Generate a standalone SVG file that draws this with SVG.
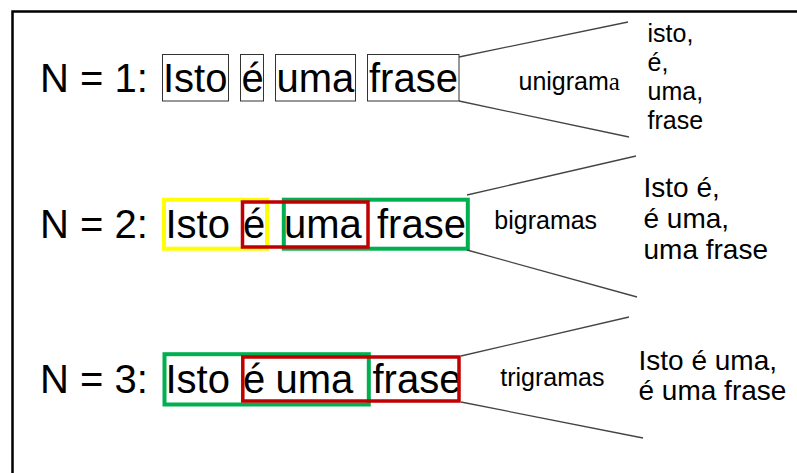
<svg xmlns="http://www.w3.org/2000/svg" width="797" height="473" viewBox="0 0 797 473">
  <style>
    text { font-family: "Liberation Sans", Arial, sans-serif; fill: #000; }
    .big { font-size: 40px; }
    .label { font-size: 25px; }
    .list1 { font-size: 25px; }
    .list { font-size: 28px; }
    .word { fill: none; stroke: #333; stroke-width: 1; }
    .yellow { fill: none; stroke: #FFFF00; stroke-width: 4; }
    .red { fill: none; stroke: #C00000; stroke-width: 3.5; }
    .green { fill: none; stroke: #00B050; stroke-width: 4; }
    .conn { stroke: #444; stroke-width: 1.3; fill: none; }
  </style>

  <rect id="frame" x="12.5" y="11.5" width="800" height="480" fill="none" stroke="#000" stroke-width="2.5"/>

  <!-- N = 1 : unigrams -->
  <g id="row1">
    <text class="big" x="40" y="92">N = 1:</text>
    <rect class="word" x="162.5" y="54.5" width="66" height="46.5"/>
    <text class="big" x="163" y="92">Isto</text>
    <rect class="word" x="240.5" y="54.5" width="23" height="46.5"/>
    <text class="big" x="241.5" y="92">é</text>
    <rect class="word" x="275.5" y="54.5" width="80" height="46.5"/>
    <text class="big" x="276.5" y="92">uma</text>
    <rect class="word" x="367.5" y="54.5" width="91.5" height="46.5"/>
    <text class="big" x="369" y="92">frase</text>
  </g>
  <g id="label1">
    <text class="label" x="518.5" y="90">unigram<tspan font-family="'Liberation Serif', serif">a</tspan></text>
  </g>
  <g id="list1">
    <text class="list1" x="647.5" y="42">isto,</text>
    <text class="list1" x="647.5" y="70.5">é,</text>
    <text class="list1" x="647.5" y="99.5">uma,</text>
    <text class="list1" x="647.5" y="128.5">frase</text>
  </g>

  <!-- N = 2 : bigrams -->
  <g id="row2">
    <text class="big" x="40" y="238">N = 2:</text>
    <text class="big" x="165.5" y="238">Isto</text>
    <text class="big" x="243" y="238">é</text>
    <text class="big" x="284" y="238">uma</text>
    <text class="big" x="377" y="238">frase</text>
    <rect class="yellow" x="164" y="199.7" width="103" height="49"/>
    <rect class="green" x="283.8" y="199.7" width="184" height="49"/>
    <rect class="red" x="242.5" y="202" width="125.5" height="45"/>
  </g>
  <g id="label2">
    <text class="label" x="494.3" y="229">bigramas</text>
  </g>
  <g id="list2">
    <text class="list" x="643.5" y="196.5">Isto é,</text>
    <text class="list" x="643.5" y="227.5">é uma,</text>
    <text class="list" x="643.5" y="258.5">uma frase</text>
  </g>

  <!-- N = 3 : trigrams -->
  <g id="row3">
    <text class="big" x="40" y="393">N = 3:</text>
    <text class="big" x="165.5" y="393">Isto</text>
    <text class="big" x="243" y="393">é</text>
    <text class="big" x="275.5" y="393">uma</text>
    <text class="big" x="372.5" y="393">frase</text>
    <rect class="green" x="164.5" y="354.2" width="204.3" height="50.3"/>
    <rect class="red" x="242.8" y="357" width="216.2" height="44"/>
  </g>
  <g id="label3">
    <text class="label" x="500.3" y="386">trigramas</text>
  </g>
  <g id="list3">
    <text class="list" x="638.5" y="370">Isto é uma,</text>
    <text class="list" x="638.5" y="400">é uma frase</text>
  </g>

  <!-- fan-out connectors -->
  <g id="connectors">
    <line class="conn" x1="459" y1="57" x2="628" y2="22"/>
    <line class="conn" x1="459" y1="101" x2="629" y2="137"/>
    <line class="conn" x1="467" y1="195" x2="636" y2="156"/>
    <line class="conn" x1="467" y1="250" x2="637" y2="297"/>
    <line class="conn" x1="461" y1="356" x2="629" y2="317"/>
    <line class="conn" x1="461" y1="402" x2="643" y2="438"/>
  </g>
</svg>
